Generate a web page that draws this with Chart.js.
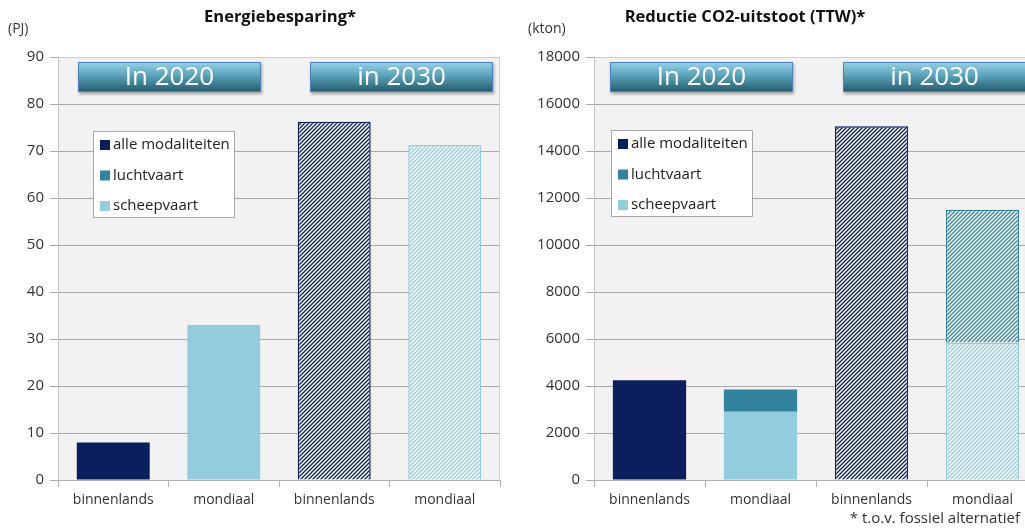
<!DOCTYPE html>
<html>
<head>
<meta charset="utf-8">
<script src="https://cdn.jsdelivr.net/npm/chart.js@4.4.1/dist/chart.umd.min.js"></script>
<style>
  html, body { margin: 0; padding: 0; background: #fff; overflow: hidden; }
  body { width: 1025px; height: 531px; position: relative; }
  .box { position: absolute; top: 0; height: 531px; }
  #leftBox { left: 0; width: 510px; }
  #rightBox { left: 510px; width: 540px; }
</style>
</head>
<body>
<div class="box" id="leftBox"><canvas id="energyChart" width="510" height="531"></canvas></div>
<div class="box" id="rightBox"><canvas id="co2Chart" width="540" height="531"></canvas></div>

<script>
/* =========================
   DATA
========================= */

const categories = ["binnenlands", "mondiaal", "binnenlands", "mondiaal"];
const years = [2020, 2020, 2030, 2030];
const periodLabels = ["In 2020", "in 2030"];
const seriesNames = ["alle modaliteiten", "luchtvaart", "scheepvaart"];

// Energiebesparing (PJ)
const energyAlle = [8, null, 76.2, null];
const energyLucht = [null, null, null, null];
const energySchip = [null, 33, null, 71.3];
const energyTicks = [0, 10, 20, 30, 40, 50, 60, 70, 80, 90];

// Reductie CO2-uitstoot (kton)
const co2Alle = [4250, null, 15050, null];
const co2Lucht = [null, 950, null, 5650];
const co2Schip = [null, 2900, null, 5850];
const co2Ticks = [0, 2000, 4000, 6000, 8000, 10000, 12000, 14000, 16000, 18000];

/* =========================
   STYLE HELPERS
========================= */

const seriesColors = ["#0b1f5e", "#31849b", "#93cddd"];
const FONT = "'Open Sans', sans-serif";

function hatch(color){
    const c = document.createElement("canvas");
    c.width = 4;
    c.height = 4;
    const g = c.getContext("2d");
    g.fillStyle = "#ffffff";
    g.fillRect(0, 0, 4, 4);
    g.strokeStyle = color;
    g.lineWidth = 1.3;
    g.beginPath();
    g.moveTo(0, 4); g.lineTo(4, 0);
    g.moveTo(-1, 1); g.lineTo(1, -1);
    g.moveTo(3, 5); g.lineTo(5, 3);
    g.stroke();
    return g.createPattern(c, "repeat");
}

function makeDataset(label, values, color){
    return {
        label: label,
        data: values,
        backgroundColor: years.map(y => y === 2030 ? hatch(color) : color),
        borderColor: color,
        borderWidth: years.map(y => y === 2030 ? 1.5 : 0),
        borderSkipped: "start",
        stack: "s"
    };
}

/* =========================
   DECORATION PLUGIN
========================= */

const decor = {
    id: "decor",
    beforeDraw(chart, args, opts){
        const a = chart.chartArea;
        const ctx = chart.ctx;
        ctx.save();
        ctx.fillStyle = "#f2f2f2";
        ctx.fillRect(a.left, a.top, a.right - a.left, a.bottom - a.top);
        ctx.restore();
    },
    afterDraw(chart, args, opts){
        const a = chart.chartArea;
        const ctx = chart.ctx;
        ctx.save();

        // plot border
        ctx.strokeStyle = "#d0d0d0";
        ctx.lineWidth = 1;
        ctx.beginPath();
        ctx.moveTo(a.left, a.top + 0.5);
        ctx.lineTo(a.right - 0.5, a.top + 0.5);
        ctx.lineTo(a.right - 0.5, a.bottom);
        ctx.stroke();

        // title + unit
        ctx.fillStyle = "#111";
        ctx.textBaseline = "middle";
        ctx.textAlign = "center";
        ctx.font = "bold 16.5px " + FONT;
        ctx.fillText(opts.title, opts.titleX, 17);
        ctx.textAlign = "left";
        ctx.font = "14px " + FONT;
        ctx.fillStyle = "#333";
        ctx.fillText(opts.unit, opts.unitX, 29);

        // period banners
        periodLabels.forEach((txt, i) => {
            const x = a.left + opts.bannerX[i];
            const y = a.top + 5;
            const w = 183, h = 30;
            ctx.shadowColor = "rgba(0,0,0,0.35)";
            ctx.shadowBlur = 3;
            ctx.shadowOffsetX = 1;
            ctx.shadowOffsetY = 2;
            const gr = ctx.createLinearGradient(0, y, 0, y + h);
            gr.addColorStop(0, "#96d3e7");
            gr.addColorStop(0.45, "#5aa3ba");
            gr.addColorStop(1, "#215a6c");
            ctx.fillStyle = gr;
            ctx.fillRect(x, y, w, h);
            ctx.shadowColor = "transparent";
            ctx.strokeStyle = "#4f81bd";
            ctx.lineWidth = 1;
            ctx.strokeRect(x + 0.5, y + 0.5, w - 1, h - 1);
            ctx.fillStyle = "#ffffff";
            ctx.textAlign = "center";
            ctx.font = "26px " + FONT;
            ctx.fillText(txt, x + w / 2, y + h / 2 + 1);
        });

        // legend box (series order, independent of stacking order)
        const lx = opts.legendX, ly = opts.legendY;
        ctx.fillStyle = "#ffffff";
        ctx.fillRect(lx, ly, 141, 86);
        ctx.strokeStyle = "#a6a6a6";
        ctx.strokeRect(lx + 0.5, ly + 0.5, 141, 86);
        seriesNames.forEach((name, i) => {
            const cy = ly + 14 + i * 30.5;
            ctx.fillStyle = seriesColors[i];
            ctx.fillRect(lx + 7, cy - 5, 10, 10);
            ctx.fillStyle = "#222";
            ctx.textAlign = "left";
            ctx.font = "15px " + FONT;
            ctx.fillText(name, lx + 20, cy);
        });

        // footnote
        if(opts.footnote){
            ctx.fillStyle = "#333";
            ctx.textAlign = "right";
            ctx.font = "15px " + FONT;
            ctx.fillText(opts.footnote, opts.footnoteX, 519);
        }

        ctx.restore();
    }
};

/* =========================
   CHART BUILDER
========================= */

function buildChart(id, values, ticks, yWidth, padRight, decorOpts){

    // scheepvaart at the bottom of the stack, luchtvaart on top
    const stackOrder = [2, 1, 0];
    const datasets = stackOrder.map(i =>
        makeDataset(seriesNames[i], values[i], seriesColors[i]));

    return new Chart(document.getElementById(id), {
        type: "bar",
        data: { labels: categories, datasets: datasets },
        options: {
            responsive: false,
            animation: false,
            layout: { padding: { top: 57, right: padRight, bottom: 0, left: 0 } },
            datasets: { bar: { barPercentage: 0.66, categoryPercentage: 1 } },
            plugins: {
                legend: { display: false },
                tooltip: { enabled: false },
                decor: decorOpts
            },
            scales: {
                x: {
                    stacked: true,
                    afterFit(s){ s.height = 51; },
                    grid: {
                        offset: true,
                        drawOnChartArea: false,
                        drawTicks: true,
                        tickLength: 7,
                        color: "#b0b0b0"
                    },
                    border: { color: "#b0b0b0" },
                    ticks: {
                        padding: 5,
                        color: "#333",
                        font: { family: FONT, size: 14 }
                    }
                },
                y: {
                    stacked: true,
                    min: ticks[0],
                    max: ticks[ticks.length - 1],
                    afterFit(s){ s.width = yWidth; },
                    afterBuildTicks(s){ s.ticks = ticks.map(v => ({ value: v })); },
                    grid: {
                        color: "#a8a8a8",
                        tickLength: 8
                    },
                    border: { color: "#c0c0c0" },
                    ticks: {
                        padding: 6,
                        color: "#333",
                        font: { family: FONT, size: 15 },
                        callback: v => String(v)
                    }
                }
            }
        },
        plugins: [decor]
    });
}

buildChart("energyChart",
    [energyAlle, energyLucht, energySchip],
    energyTicks, 58, 10,
    {
        title: "Energiebesparing*",
        titleX: 280,
        unit: "(PJ)",
        unitX: 8,
        bannerX: [20, 252],
        legendX: 93,
        legendY: 131,
        footnote: null
    });

buildChart("co2Chart",
    [co2Alle, co2Lucht, co2Schip],
    co2Ticks, 84, 12,
    {
        title: "Reductie CO2-uitstoot (TTW)*",
        titleX: 235,
        unit: "(kton)",
        unitX: 18,
        bannerX: [16, 249],
        legendX: 101,
        legendY: 130,
        footnote: "* t.o.v. fossiel alternatief",
        footnoteX: 510
    });
</script>
</body>
</html>
